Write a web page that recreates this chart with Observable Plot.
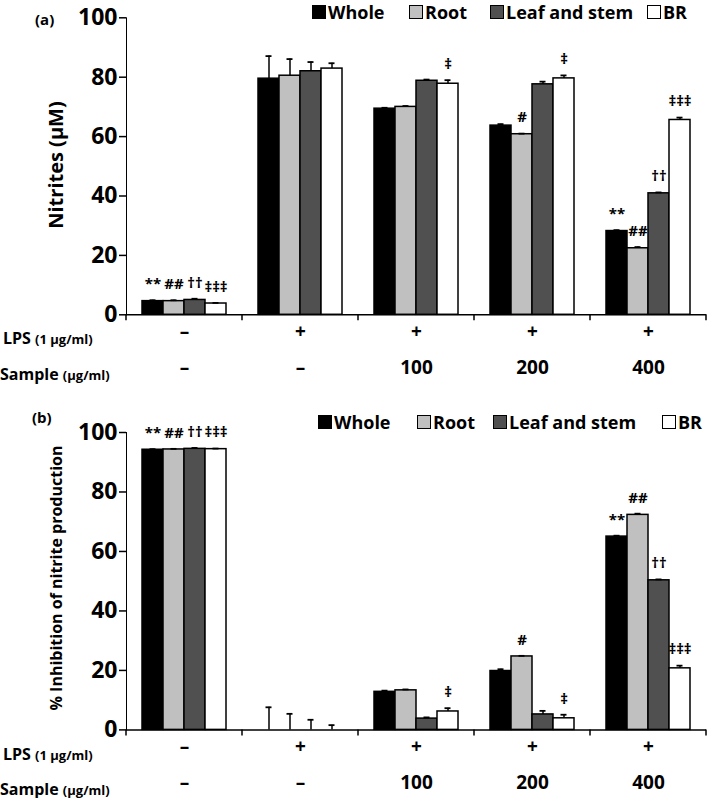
<!DOCTYPE html>
<html><head><meta charset="utf-8">
<script src="https://cdn.jsdelivr.net/npm/d3@7"></script>
<script src="https://cdn.jsdelivr.net/npm/@observablehq/plot@0.6"></script>
<style>
body{margin:0;background:#fff;font-family:"Open Sans",sans-serif;font-weight:700;color:#000}
#root{position:relative;width:709px;height:798px;overflow:hidden}
.panel{position:absolute;left:0;width:709px;height:399px}
.panel svg{overflow:visible}
.abs{position:absolute;white-space:nowrap;line-height:1}
.mid{transform:translateY(-50%)}
.sw{position:absolute;width:14px;height:14px;border:1.5px solid #000;box-sizing:border-box;transform:translateY(-50%)}
.rot{position:absolute;white-space:nowrap;line-height:1;transform:translate(-50%,-50%) rotate(-90deg)}
</style></head><body><div id="root"></div>
<script>
// ---------- data ----------
const groups = ["Control", "LPS", "100", "200", "400"];
const lpsRow = ["–", "+", "+", "+", "+"];
const sampleRow = ["–", "–", "100", "200", "400"];
const series = ["Whole", "Root", "Leaf and stem", "BR"];
const colors = ["#000000", "#c0c0c0", "#505050", "#ffffff"];
const yTicks = [0, 20, 40, 60, 80, 100];

// (a) Nitrites (μM), one value per group
const nitWhole = [4.6, 79.5, 69.4, 63.7, 28.2];
const nitRoot  = [4.6, 80.5, 70.0, 60.8, 22.4];
const nitLeaf  = [5.0, 82.0, 78.8, 77.6, 40.9];
const nitBR    = [3.8, 82.9, 77.8, 79.6, 65.6];
const nitErrWhole = [0.3, 7.6, 0.3, 0.5, 0.3];
const nitErrRoot  = [0.3, 5.6, 0.3, 0.2, 0.4];
const nitErrLeaf  = [0.4, 3.1, 0.4, 0.9, 0.3];
const nitErrBR    = [0.2, 1.8, 1.2, 1.0, 0.8];

// (b) % Inhibition of nitrite production
const inhWhole = [94.2, 0, 12.8, 19.8, 65.0];
const inhRoot  = [94.3, 0, 13.3, 24.7, 72.3];
const inhLeaf  = [94.5, 0, 3.8, 5.2, 50.3];
const inhBR    = [94.4, 0, 6.2, 3.9, 20.7];
const inhErrWhole = [0.2, 7.6, 0.4, 0.6, 0.3];
const inhErrRoot  = [0.2, 5.4, 0.3, 0.2, 0.4];
const inhErrLeaf  = [0.3, 3.4, 0.4, 1.2, 0.3];
const inhErrBR    = [0.2, 1.6, 1.1, 1.2, 0.9];

// significance marks (same for both panels)
const sigWhole = ["**", "", "", "", "**"];
const sigRoot  = ["##", "", "", "#", "##"];
const sigLeaf  = ["††", "", "", "", "††"];
const sigBR    = ["‡‡‡", "", "‡", "‡", "‡‡‡"];

// ---------- drawing ----------
const root = document.getElementById("root");
const FONT = "'Open Sans', sans-serif";

function makePanel(top, mt, mb, vals, errs) {
  const sigs = [sigWhole, sigRoot, sigLeaf, sigBR];
  const rows = [];
  series.forEach((s, si) => groups.forEach((g, gi) => rows.push({
    group: g, series: s, value: vals[si][gi], err: errs[si][gi], sig: sigs[si][gi]
  })));
  const plot = Plot.plot({
    width: 709, height: 399,
    marginLeft: 124, marginRight: 2, marginTop: mt, marginBottom: mb,
    style: {fontFamily: FONT, fontWeight: 700, fontSize: "23px", color: "#000", background: "transparent"},
    fx: {domain: groups, paddingInner: 0, paddingOuter: 0, axis: null, label: null},
    x: {domain: series, paddingInner: 0, paddingOuter: 0.7, axis: null},
    y: {domain: [0, 100], ticks: yTicks, tickSize: 7, tickPadding: 2, label: null, line: true, tickFormat: d => d},
    color: {domain: series, range: colors},
    marks: [
      Plot.barY(rows, {fx: "group", x: "series", y: "value", fill: "series", stroke: "#000", strokeWidth: 1.5}),
      Plot.ruleX(rows, {fx: "group", x: "series", y1: "value", y2: d => d.value + d.err, stroke: "#000", strokeWidth: 1.5}),
      Plot.tickY(rows, {fx: "group", x: "series", y: d => d.value + d.err, inset: 7.5, stroke: "#000", strokeWidth: 1.8}),
      Plot.ruleY(groups, {fx: d => d, y: () => 0, stroke: "#000", strokeWidth: 1.5}),
      Plot.text(rows.filter(d => d.sig), {fx: "group", x: "series", y: d => d.value + d.err, text: "sig", dy: -16, fontSize: 15, fontWeight: 700}),
      Plot.text(groups, {fx: d => d, text: (d, i) => lpsRow[i], frameAnchor: "bottom", dy: 23.5, fontSize: 19, fontWeight: 700}),
      Plot.text(groups, {fx: d => d, text: (d, i) => sampleRow[i], frameAnchor: "bottom", dy: 59, fontSize: 19, fontWeight: 700})
    ]
  });
  d3.select(plot).selectAll("[aria-label^='y-axis'] path, [aria-label^='y-axis'] line").attr("stroke-width", 1.5);
  // group boundary ticks on the x baseline, from Plot's own scales
  const fxs = plot.scale("fx"), ys = plot.scale("y");
  const y0 = ys.apply(0);
  const edges = groups.map(g => fxs.apply(g));
  edges.push(fxs.apply(groups[groups.length - 1]) + fxs.bandwidth);
  d3.select(plot).append("g").selectAll("line").data(edges).join("line")
    .attr("x1", d => d).attr("x2", d => d).attr("y1", y0).attr("y2", y0 + 6)
    .attr("stroke", "#000").attr("stroke-width", 1.5);
  const div = document.createElement("div");
  div.className = "panel";
  div.style.top = top + "px";
  div.appendChild(plot);
  root.appendChild(div);
}

makePanel(0, 17.3, 84.7, [nitWhole, nitRoot, nitLeaf, nitBR], [nitErrWhole, nitErrRoot, nitErrLeaf, nitErrBR]);
makePanel(399, 33, 68.6, [inhWhole, inhRoot, inhLeaf, inhBR], [inhErrWhole, inhErrRoot, inhErrLeaf, inhErrBR]);

// ---------- HTML text: panel tags, y titles, row labels, legends ----------
function addText(html, left, top, size, cls) {
  const el = document.createElement("div");
  el.className = cls || "abs mid";
  el.style.left = left + "px";
  el.style.top = top + "px";
  el.style.fontSize = size + "px";
  el.innerHTML = html;
  root.appendChild(el);
  return el;
}
addText("(a)", 35, 19, 15);
addText("(b)", 32, 417, 15);
addText("Nitrites (μM)", 56, 165, 20, "rot");
addText("% Inhibition of nitrite production", 56, 578, 16, "rot");

[[337.5, 373.5], [753.5, 788.5]].forEach(([ly, sy]) => {
  addText("LPS <span style='font-size:13px'>(1 μg/ml)</span>", 3, ly, 16);
  addText("Sample <span style='font-size:13px'>(μg/ml)</span>", 0, sy, 16);
});

const legendPos = [[12, [312, 409, 490, 647]], [422, [318, 417, 493, 662]]];
legendPos.forEach(([ly, xs]) => {
  series.forEach((s, i) => {
    const sw = document.createElement("div");
    sw.className = "sw";
    sw.style.left = xs[i] + "px";
    sw.style.top = ly + "px";
    sw.style.background = colors[i];
    root.appendChild(sw);
    addText(s, xs[i] + 16, ly, 18);
  });
});
</script></body></html>
